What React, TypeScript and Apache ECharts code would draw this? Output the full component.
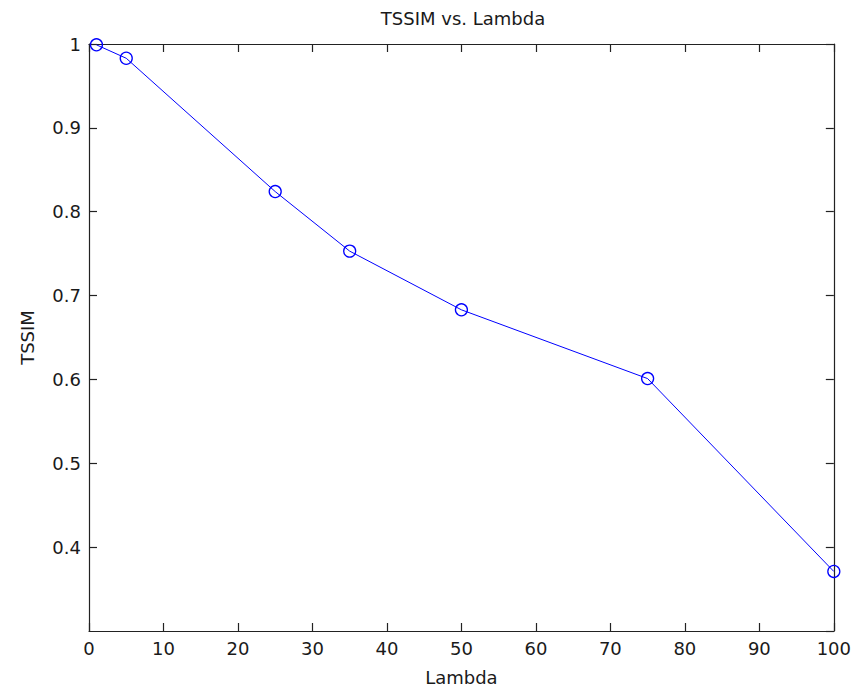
import React, { useEffect, useRef } from "react";
import * as echarts from "echarts";

const lambdas = [1, 5, 25, 35, 50, 75, 100];
const tssim = [0.999, 0.983, 0.824, 0.753, 0.683, 0.601, 0.371];
const xTicks = { min: 0, max: 100, interval: 10 };
const yTicks = { min: 0.3, max: 1, interval: 0.1 };
const titleText = "TSSIM vs. Lambda";
const xName = "Lambda";
const yName = "TSSIM";

const FONT = "DejaVu Sans";
const TEXT_COLOR = "#1a1a1a";
const FS = 18;

const mkLine = () => ({ show: true, onZero: false, lineStyle: { color: "#222", width: 1.2 } });
const mkTick = () => ({ show: true, inside: true, length: 8, lineStyle: { color: "#222", width: 1.2 } });

export default function App() {
  const ref = useRef<HTMLDivElement>(null);
  useEffect(() => {
    if (!ref.current) return;
    const chart = echarts.init(ref.current, undefined, { renderer: "svg" });
    chart.setOption({
      animation: false,
      backgroundColor: "#ffffff",
      title: {
        text: titleText,
        left: 458,
        textAlign: "center",
        top: 4,
        textStyle: { fontFamily: FONT, fontSize: FS, fontWeight: "normal", color: TEXT_COLOR },
      },
      grid: { left: 89, top: 44, right: 20, bottom: 60, containLabel: false },
      xAxis: [
        {
          type: "value",
          ...xTicks,
          position: "bottom",
          name: xName,
          nameLocation: "middle",
          nameGap: 37,
          nameTextStyle: { fontFamily: FONT, fontSize: FS, color: TEXT_COLOR },
          axisLine: mkLine(),
          axisTick: mkTick(),
          splitLine: { show: false },
          axisLabel: { fontFamily: FONT, fontSize: FS, color: TEXT_COLOR, margin: 8 },
        },
        {
          type: "value",
          ...xTicks,
          position: "top",
          axisLine: mkLine(),
          axisTick: mkTick(),
          splitLine: { show: false },
          axisLabel: { show: false },
        },
      ],
      yAxis: [
        {
          type: "value",
          ...yTicks,
          position: "left",
          name: yName,
          nameLocation: "middle",
          nameRotate: 90,
          nameGap: 53,
          nameTextStyle: { fontFamily: FONT, fontSize: FS, color: TEXT_COLOR },
          axisLine: mkLine(),
          axisTick: mkTick(),
          splitLine: { show: false },
          axisLabel: {
            fontFamily: FONT,
            fontSize: FS,
            color: TEXT_COLOR,
            margin: 8,
            showMinLabel: false,
            formatter: (v: number) => String(Math.round(v * 10) / 10),
          },
        },
        {
          type: "value",
          ...yTicks,
          position: "right",
          axisLine: mkLine(),
          axisTick: mkTick(),
          splitLine: { show: false },
          axisLabel: { show: false },
        },
      ],
      series: [
        {
          type: "line",
          data: lambdas.map((x, i) => [x, tssim[i]]),
          xAxisIndex: 0,
          yAxisIndex: 0,
          symbol: "circle",
          symbolSize: 12,
          showAllSymbol: true,
          lineStyle: { color: "#0000ff", width: 1 },
          itemStyle: { color: "rgba(0,0,0,0)", borderColor: "#0000ff", borderWidth: 1.3 },
          clip: false,
        },
      ],
    });
    return () => chart.dispose();
  }, []);
  return (
    <div
      ref={ref}
      style={{ position: "fixed", left: 0, top: 0, width: 854, height: 691, background: "#fff" }}
    />
  );
}
